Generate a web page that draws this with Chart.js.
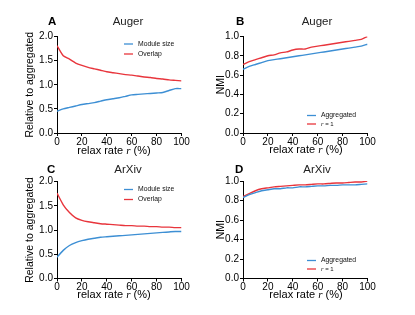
<!DOCTYPE html>
<html>
<head>
<meta charset="utf-8">
<script src="https://cdn.jsdelivr.net/npm/chart.js@4.4.0/dist/chart.umd.min.js"></script>
<style>
body{margin:0;background:#fff;width:415px;height:315px;position:relative;overflow:hidden;font-family:"Liberation Sans",Arial,sans-serif;}
canvas{position:absolute;}
.t{position:absolute;font-size:11.5px;color:#222;transform:translate(-50%,-50%);white-space:nowrap;}
.l{position:absolute;font-size:11.5px;font-weight:bold;transform:translate(0,-50%);}
.xt{position:absolute;font-size:11px;transform:translate(-50%,-50%);white-space:nowrap;}
.xt i{font-family:"Liberation Serif",serif;}
</style>
</head>
<body>
<canvas id="cA" width="207" height="157" style="left:0;top:0"></canvas>
<canvas id="cB" width="208" height="157" style="left:207px;top:0"></canvas>
<canvas id="cC" width="207" height="158" style="left:0;top:157px"></canvas>
<canvas id="cD" width="208" height="158" style="left:207px;top:157px"></canvas>

<div class="l" style="left:48px;top:21px">A</div>
<div class="l" style="left:236px;top:21px">B</div>
<div class="l" style="left:47px;top:169px">C</div>
<div class="l" style="left:235px;top:169px">D</div>
<div class="t" style="left:128px;top:21px">Auger</div>
<div class="t" style="left:317px;top:21px">Auger</div>
<div class="t" style="left:128px;top:169px">ArXiv</div>
<div class="t" style="left:317px;top:169px">ArXiv</div>
<div class="xt" style="left:114px;top:150px">relax rate <i>r</i> (%)</div>
<div class="xt" style="left:306px;top:149px">relax rate <i>r</i> (%)</div>
<div class="xt" style="left:114px;top:294px">relax rate <i>r</i> (%)</div>
<div class="xt" style="left:306px;top:294px">relax rate <i>r</i> (%)</div>

<script>
const relaxRate = [0,5,10,15,20,25,30,35,40,45,50,55,60,65,70,75,80,85,90,95,100];

const augerModule  = [0.45,0.50,0.53,0.56,0.59,0.61,0.63,0.66,0.69,0.71,0.73,0.76,0.79,0.80,0.81,0.82,0.83,0.84,0.88,0.92,0.92];
const augerOverlap = [1.81,1.60,1.53,1.45,1.40,1.36,1.33,1.30,1.27,1.25,1.23,1.21,1.20,1.18,1.16,1.15,1.13,1.12,1.10,1.09,1.08];
const augerNmiAgg  = [0.66,0.69,0.71,0.73,0.75,0.76,0.77,0.78,0.79,0.80,0.81,0.82,0.83,0.84,0.85,0.86,0.87,0.88,0.89,0.90,0.92];
const augerNmiR1   = [0.71,0.74,0.76,0.78,0.80,0.81,0.83,0.84,0.86,0.87,0.87,0.89,0.90,0.91,0.92,0.93,0.94,0.95,0.96,0.97,1.00];

const arxivModule  = [0.44,0.58,0.68,0.74,0.78,0.81,0.83,0.85,0.86,0.87,0.88,0.89,0.90,0.91,0.92,0.93,0.94,0.95,0.96,0.97,0.97];
const arxivOverlap = [1.76,1.52,1.36,1.25,1.20,1.17,1.15,1.13,1.12,1.11,1.10,1.09,1.09,1.08,1.08,1.07,1.07,1.06,1.06,1.05,1.05];
const arxivNmiAgg  = [0.83,0.86,0.88,0.90,0.91,0.92,0.92,0.93,0.93,0.94,0.94,0.945,0.95,0.95,0.955,0.955,0.96,0.96,0.96,0.965,0.97];
const arxivNmiR1   = [0.84,0.87,0.90,0.92,0.93,0.94,0.945,0.95,0.955,0.96,0.96,0.965,0.97,0.97,0.975,0.98,0.98,0.985,0.99,0.99,1.00];

const xTicks = [0,20,40,60,80,100];

const BLUE = '#3d8fd4', RED = '#e8353c';
const FONT = '"Liberation Sans", Arial, sans-serif';

function pts(vals){ return relaxRate.map((x,i)=>({x, y: vals[i]})); }

// legend drawn inside the plot
const innerLegend = {
  id:'innerLegend',
  afterDraw(chart, args, o){
    const ctx = chart.ctx;
    ctx.save();
    chart.data.datasets.forEach((ds,i)=>{
      const y = o.y + i*o.gap;
      ctx.strokeStyle = ds.borderColor; ctx.lineWidth = 1.3;
      ctx.beginPath(); ctx.moveTo(o.x, y); ctx.lineTo(o.x+9, y); ctx.stroke();
      ctx.fillStyle = '#111'; ctx.textBaseline = 'middle';
      if (ds.label === 'r = 1'){
        ctx.font = 'italic 6.5px "Liberation Serif"'; ctx.fillText('r', o.x+14, y);
        ctx.font = '6px ' + FONT; ctx.fillText(' = 1', o.x+16.5, y);
      } else {
        ctx.font = '6.8px ' + FONT; ctx.fillText(ds.label, o.x+14, y);
      }
    });
    ctx.restore();
  }
};

function makeChart(id, sets, yMax, yStep, yTitle, yWidth, titlePad, top, bottom, legend){
  const c = document.getElementById(id);
  return new Chart(c, {
    type:'line',
    data:{ datasets: sets.map(s=>({label:s[0], data:pts(s[1]), borderColor:s[2], borderWidth:1.4, pointRadius:0, tension:0.2, fill:false})) },
    options:{
      responsive:false, animation:false,
      layout:{ padding:{ left:0, top:top, right:c.width-(yWidth+124.5), bottom:0 } },
      plugins:{ legend:{display:false}, tooltip:{enabled:false}, innerLegend:legend },
      scales:{
        x:{ type:'linear', min:0, max:100,
          afterBuildTicks(s){ s.ticks = xTicks.map(v=>({value:v})); },
          afterFit(s){ s.height = c.height - bottom; },
          grid:{ drawOnChartArea:false, tickLength:3, color:'#000' },
          border:{ color:'#000', width:1 },
          ticks:{ color:'#000', font:{size:10, family:FONT}, padding:0, maxRotation:0 } },
        y:{ min:0, max:yMax,
          afterFit(s){ s.width = yWidth; },
          grid:{ drawOnChartArea:false, tickLength:3, color:'#000' },
          border:{ color:'#000', width:1 },
          ticks:{ stepSize:yStep, color:'#000', font:{size:10, family:FONT}, padding:1, callback:v=>v.toFixed(1) },
          title:{ display:true, text:yTitle, color:'#000', font:{size:10.5, family:FONT}, padding:{top:titlePad, bottom:0} } }
      }
    },
    plugins:[innerLegend]
  });
}

makeChart('cA', [['Module size',augerModule,BLUE],['Overlap',augerOverlap,RED]], 2.0, 0.5, 'Relative to aggregated', 57, 24, 36.5, 133, {x:124,y:44,gap:10});
makeChart('cB', [['Aggregated',augerNmiAgg,BLUE],['r = 1',augerNmiR1,RED]], 1.0, 0.2, 'NMI', 36, 8, 36.5, 133, {x:100,y:115.5,gap:8.5});
makeChart('cC', [['Module size',arxivModule,BLUE],['Overlap',arxivOverlap,RED]], 2.0, 0.5, 'Relative to aggregated', 57, 24, 24.5, 121.5, {x:124,y:32.5,gap:10});
makeChart('cD', [['Aggregated',arxivNmiAgg,BLUE],['r = 1',arxivNmiR1,RED]], 1.0, 0.2, 'NMI', 36, 8, 24, 121.5, {x:100,y:103.5,gap:8.5});
</script>
</body>
</html>
